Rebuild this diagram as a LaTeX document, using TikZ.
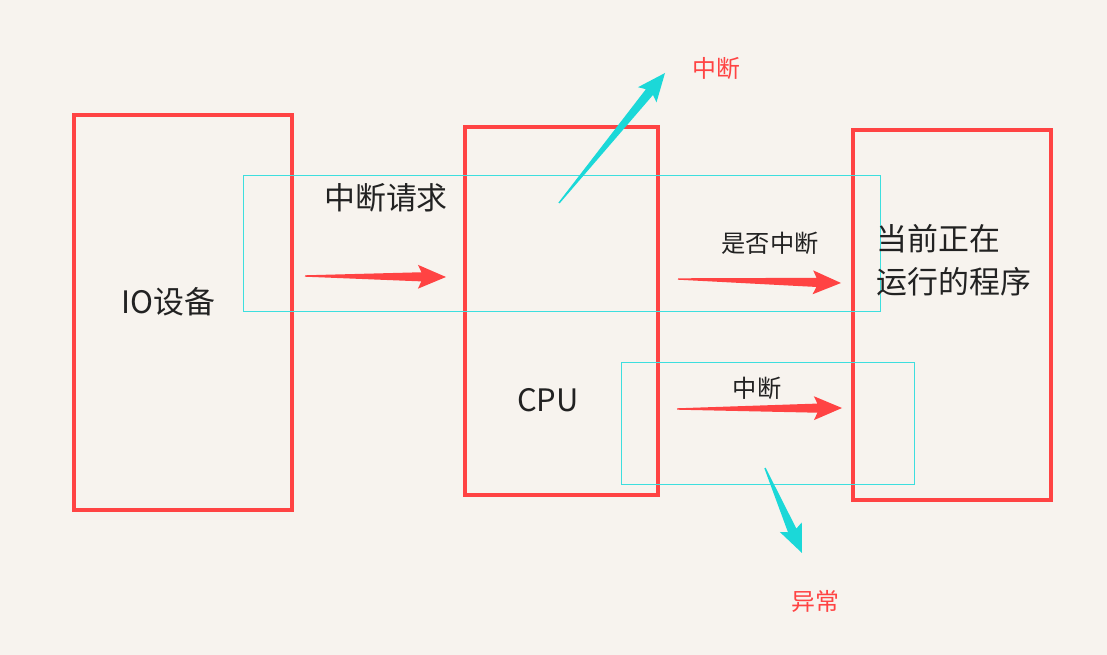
\documentclass[tikz,border=0pt]{standalone}
\usepackage{fontspec}
\setmainfont{Noto Sans CJK SC}
\usetikzlibrary{calc, positioning}
\definecolor{PaperBeige}{HTML}{F7F3EE}
\definecolor{BoxRed}{HTML}{FF4343}
\definecolor{MarkCyan}{HTML}{1BD8D8}
\definecolor{TextDark}{HTML}{222222}

% tapered arrow: #1 tail, #2 tip, #3 colour
\newcommand\wedgearrow[3]{%
  \path (#1) coordinate (wa-t) (#2) coordinate (wa-h);
  \path ($(wa-h)!14pt!(wa-t)$) coordinate (wa-b);
  \path ($(wa-h)!16pt!(wa-t)$) coordinate (wa-k);
  \fill[#3] ($(wa-t)!0.4pt!90:(wa-h)$) -- ($(wa-b)!2.6pt!90:(wa-h)$)
    -- ($(wa-k)!6.8pt!90:(wa-h)$) -- (wa-h)
    -- ($(wa-k)!6.8pt!-90:(wa-h)$) -- ($(wa-b)!2.6pt!-90:(wa-h)$)
    -- ($(wa-t)!0.4pt!-90:(wa-h)$) -- cycle;}

\begin{document}
\begin{tikzpicture}[x=0.02cm, y=-0.02cm,
    redbox/.style={draw=BoxRed, line width=2.3pt, minimum width=#1},
    markbox/.style={draw=MarkCyan!85!white, line width=0.5pt, minimum width=#1},
    bigtext/.style={font=\fontsize{17.6pt}{24.4pt}\selectfont, text=TextDark, inner sep=0pt},
    smalltext/.style={font=\fontsize{13.8pt}{16pt}\selectfont, text=TextDark, inner sep=0pt},
    notetext/.style={font=\fontsize{13.6pt}{16pt}\selectfont, text=BoxRed, inner sep=0pt}]
  % background and frame
  \fill[PaperBeige] (0,0) rectangle (1107,655);
  \useasboundingbox (0,0) rectangle (1107,655);

  % the three blocks
  \node[redbox=4.36cm, minimum height=7.9cm] (io) at (183,312.5) {};
  \node[redbox=3.86cm, minimum height=7.36cm] (cpu) at (561.5,311) {};
  \node[redbox=3.96cm, minimum height=7.4cm] (prog) at (952,315) {};

  % highlight frames
  \node[markbox=12.74cm, minimum height=2.72cm] (reqframe) at (561.5,243) {};
  \node[markbox=5.86cm, minimum height=2.44cm] (intframe) at (767.5,423) {};

  % labels
  \node[bigtext] (iolabel) at (168,302) {IO设备};
  \node[bigtext] (reqlabel) at (386,198) {中断请求};
  \node[bigtext] (cpulabel) at (548,400) {CPU};
  \node[bigtext, anchor=west, align=left] (proglabel) at (876,260) {当前正在\\运行的程序};
  \node[smalltext] (asklabel) at (770,243) {是否中断};
  \node[smalltext] (intlabel) at (757,388) {中断};
  \node[notetext] (notetop) at (716,68) {中断};
  \node[notetext] (notebottom) at (815,601) {异常};

  % arrows
  \coordinate (reqtail) at (305,276);   \coordinate (reqtip) at (446,277);
  \coordinate (asktail) at (678,279);   \coordinate (asktip) at (841,283);
  \coordinate (inttail) at (677,409);   \coordinate (inttip) at (842,408);
  \coordinate (uptail) at (559,203);    \coordinate (uptip) at (665,73);
  \coordinate (downtail) at (765,468);  \coordinate (downtip) at (802,553);
  \wedgearrow{reqtail}{reqtip}{BoxRed}
  \wedgearrow{asktail}{asktip}{BoxRed}
  \wedgearrow{inttail}{inttip}{BoxRed}
  \wedgearrow{uptail}{uptip}{MarkCyan}
  \wedgearrow{downtail}{downtip}{MarkCyan}
\end{tikzpicture}
\end{document}
